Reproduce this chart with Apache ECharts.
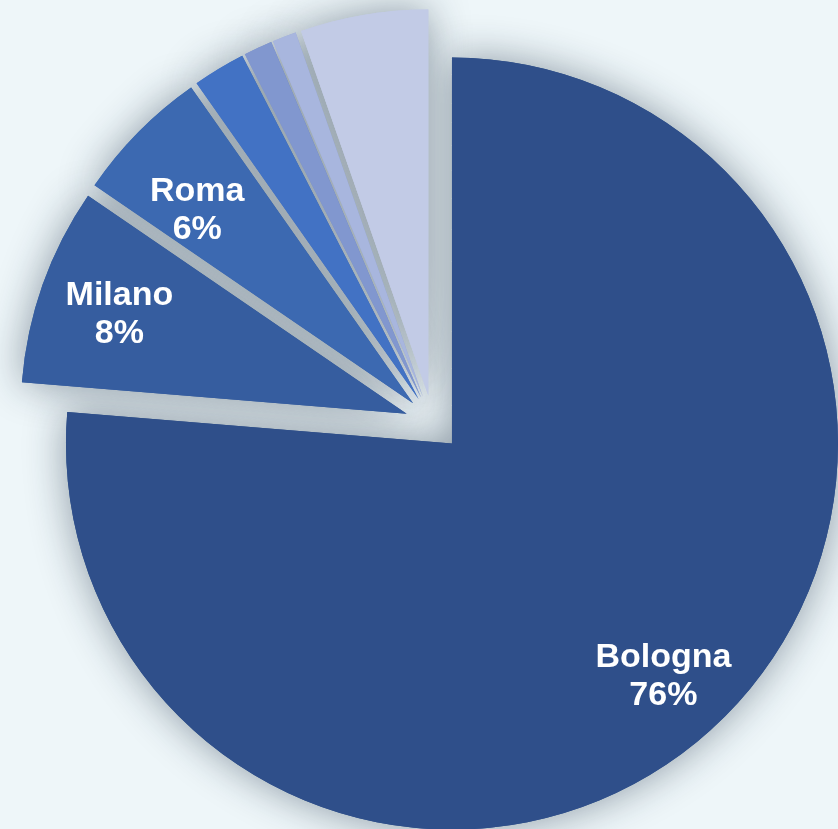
<!DOCTYPE html>
<html><head><meta charset="utf-8">
<script src="https://cdn.jsdelivr.net/npm/echarts@6/dist/echarts.min.js"></script>
<style>html,body{margin:0;padding:0;background:#eef6f9;}#c{width:838px;height:829px;}</style>
</head><body><div id="c"></div>
<script>
const categories = ['Bologna', 'Milano', 'Roma', 'Torino', 'Napoli', 'Firenze', 'Altri'];
const values = [76.3, 8.25, 5.7, 2.2, 1.2, 1.0, 5.35];
const colors = ['#2f4f8a', '#365d9f', '#3c69b1', '#4272c4', '#8197cf', '#a8b6de', '#c2cbe6'];
const labeled = ['Bologna', 'Milano', 'Roma'];

const center = [433, 423];
const R = 386;
const offset = 28;
// small nudges of the label text: [horizontal padding, height of a blank top line]
const labelNudge = { Bologna: [4, 12], Milano: [8, 8], Roma: [8, 48] };

function mk(styleFn) {
  return categories.map((c, i) => Object.assign({ name: c, value: values[i], selected: true }, styleFn(c, i)));
}
const base = {
  type: 'pie', center: center, startAngle: 90, clockwise: true,
  selectedMode: 'multiple', selectedOffset: offset, percentPrecision: 0,
  avoidLabelOverlap: false, labelLine: { show: false }, emphasis: { disabled: true },
  silent: true, animation: false
};
const chart = echarts.init(document.getElementById('c'), null, { renderer: 'canvas' });
chart.setOption({
  backgroundColor: '#eef6f9',
  animation: false,
  series: [
    Object.assign({}, base, {
      radius: [0, R], label: { show: false },
      data: mk((c, i) => ({ itemStyle: { color: colors[i], shadowBlur: 40, shadowColor: 'rgba(20,40,60,0.45)' } }))
    }),
    Object.assign({}, base, {
      radius: [0, R], label: { show: false },
      data: mk((c, i) => ({ itemStyle: { color: colors[i] } }))
    }),
    Object.assign({}, base, {
      radius: [226, R],
      label: { show: true, position: 'inside', formatter: '{b}\n{d}%', color: '#ffffff',
        fontFamily: 'Liberation Sans, Arial, sans-serif', fontWeight: 'bold', fontSize: 34, lineHeight: 38 },
      data: mk((c, i) => {
        const n = labelNudge[c];
        if (!n) return { itemStyle: { color: 'rgba(0,0,0,0)' }, label: { show: false } };
        return {
          itemStyle: { color: 'rgba(0,0,0,0)' },
          label: {
            show: true, padding: [0, 0, 0, n[0]],
            formatter: '{g| }\n{b}\n{d}%',
            rich: { g: { lineHeight: n[1], fontSize: 4 } }
          }
        };
      })
    })
  ]
});
</script></body></html>
